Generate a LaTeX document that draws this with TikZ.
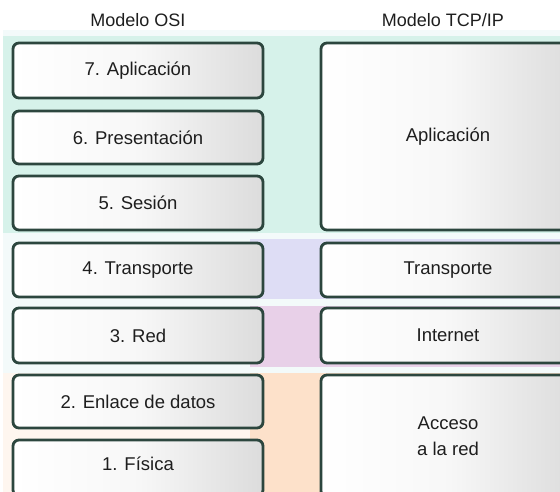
\documentclass[tikz,border=0pt]{standalone}
\usepackage{fontspec}
\setmainfont{Liberation Sans}
\definecolor{teal1}{HTML}{D6F2EA}
\definecolor{lav}{HTML}{DEDDF5}
\definecolor{pinkb}{HTML}{E8D0E8}
\definecolor{peach}{HTML}{FDE1CA}
\definecolor{gapc}{HTML}{F3FAFA}
\definecolor{bord}{HTML}{2C463E}
\definecolor{txt}{HTML}{1E1E1E}
\definecolor{boxr}{HTML}{DCDCDC}
\begin{document}
\begin{tikzpicture}[x=1pt,y=-1pt,
  layer/.style={draw=bord,line width=2.8pt,rounded corners=6pt,
    left color=white,right color=boxr,middle color=black!3,
    minimum width=#1,inner sep=0pt,align=center,
    font=\fontsize{18.5}{26}\selectfont,text=txt},
  layer/.default=250pt,
  head/.style={font=\fontsize{18}{20}\selectfont,text=txt}]
\useasboundingbox (0,0) rectangle (560,492);
\clip (0,0) rectangle (560,492);
\fill[white] (0,0) rectangle (560,492);
% bands
\fill[gapc] (3,30) rectangle (560,492);
\fill[teal1] (3,36) rectangle (560,233);
\fill[lav] (250,239) rectangle (560,299);
\fill[pinkb] (250,306) rectangle (560,367);
\fill[peach] (250,373) rectangle (560,492);
\fill[peach!30] (3,373) rectangle (250,492);
% headers
\node[head] (hosi) at (138,20) {Modelo OSI};
\node[head] (htcp) at (443,20) {Modelo TCP/IP};
% OSI layers
\node[layer,minimum height=55pt] (l7) at (138,70.5) {7. Aplicación};
\node[layer,minimum height=53pt] (l6) at (138,137.5) {6. Presentación};
\node[layer,minimum height=54pt] (l5) at (138,203) {5. Sesión};
\node[layer,minimum height=54pt] (l4) at (138,270) {4. Transporte};
\node[layer,minimum height=55pt] (l3) at (138,335.5) {3. Red};
\node[layer,minimum height=53pt] (l2) at (138,401.5) {2. Enlace de datos};
\node[layer,minimum height=56pt] (l1) at (138,468) {\raisebox{8pt}{1. Física}};
% TCP/IP layers
\node[layer=254pt,minimum height=187pt] (tapp) at (448,136.5) {Aplicación};
\node[layer=254pt,minimum height=54pt] (ttra) at (448,270) {Transporte};
\node[layer=254pt,minimum height=55pt] (tint) at (448,335.5) {Internet};
\node[layer=254pt,minimum height=122pt] (tacc) at (448,436) {Acceso\\a la red};
\end{tikzpicture}
\end{document}
